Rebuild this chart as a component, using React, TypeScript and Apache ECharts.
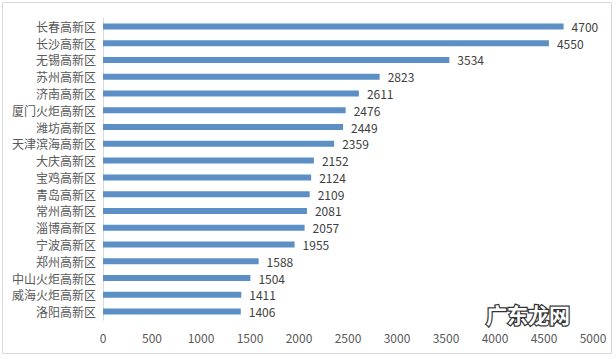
import React, { useEffect, useRef } from "react";
import * as echarts from "echarts";

const categories = [
  "长春高新区", "长沙高新区", "无锡高新区", "苏州高新区", "济南高新区", "厦门火炬高新区",
  "潍坊高新区", "天津滨海高新区", "大庆高新区", "宝鸡高新区", "青岛高新区", "常州高新区",
  "淄博高新区", "宁波高新区", "郑州高新区", "中山火炬高新区", "威海火炬高新区", "洛阳高新区",
];
const values = [4700, 4550, 3534, 2823, 2611, 2476, 2449, 2359, 2152, 2124, 2109, 2081, 2057, 1955, 1588, 1504, 1411, 1406];
const xTicks = { min: 0, max: 5000, interval: 500 };

export default function App() {
  const ref = useRef<HTMLDivElement>(null);
  useEffect(() => {
    document.body.style.margin = "0";
    const chart = echarts.init(ref.current!, null, { renderer: "svg" });
    const font = "'Noto Sans CJK SC', 'Noto Sans', sans-serif";
    chart.setOption({
      animation: false,
      backgroundColor: "#ffffff",
      grid: { left: 103, right: 23, top: 18, bottom: 39, containLabel: false },
      xAxis: {
        type: "value",
        min: xTicks.min,
        max: xTicks.max,
        interval: xTicks.interval,
        axisLine: { show: false },
        axisTick: { show: false },
        splitLine: { show: false },
        axisLabel: {
          color: "#595959",
          fontSize: 12,
          fontFamily: font,
          margin: 11,
          formatter: (v: number) => String(v),
        },
      },
      yAxis: {
        type: "category",
        data: categories,
        inverse: true,
        axisLine: { show: true, lineStyle: { color: "#d9d9d9", width: 1 } },
        axisTick: { show: false },
        axisLabel: { color: "#595959", fontSize: 12, fontFamily: font, margin: 7 },
      },
      series: [
        {
          type: "bar",
          data: values,
          barWidth: 6,
          itemStyle: { color: "#5b8fc6" },
          label: {
            show: true,
            position: "right",
            distance: 8,
            color: "#404040",
            fontSize: 12,
            fontFamily: font,
          },
        },
      ],
      graphic: [
        {
          type: "rect",
          shape: { x: 2.5, y: 2.5, width: 609, height: 351 },
          style: { fill: "none", stroke: "#d9d9d9", lineWidth: 1 },
          silent: true,
        },
        {
          type: "text",
          x: 486,
          y: 303,
          style: {
            text: "广东龙网",
            fill: "#ffffff",
            stroke: "#333333",
            lineWidth: 2.5,
            fontSize: 21,
            fontWeight: "bold",
            fontFamily: font,
          },
          z: 100,
        },
      ],
    });
    return () => chart.dispose();
  }, []);
  return <div ref={ref} style={{ width: 616, height: 359 }} />;
}
